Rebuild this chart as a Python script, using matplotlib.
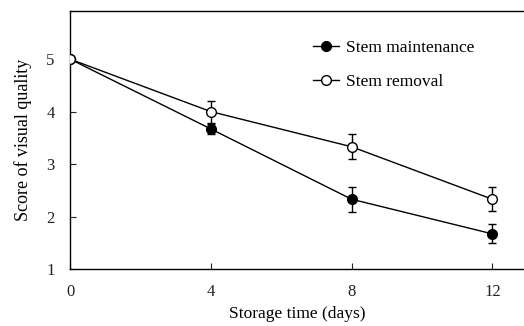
import matplotlib
matplotlib.use("Agg")
import matplotlib.pyplot as plt

days = [0, 4, 8, 12]
maintenance = [5.0, 3.67, 2.33, 1.67]
maintenance_err = [0.0, 0.10, 0.24, 0.18]
removal = [5.0, 4.0, 3.33, 2.33]
removal_err = [0.0, 0.21, 0.24, 0.23]
x_ticks = [0, 4, 8, 12]
y_ticks = [1, 2, 3, 4, 5]

plt.rcParams["font.family"] = ["Liberation Serif", "DejaVu Serif"]
plt.rcParams["font.size"] = 12

fig = plt.figure(figsize=(5.24, 3.26), dpi=100)
ax = fig.add_axes([0.1336, 0.1748, 0.8664, 0.792])

ax.errorbar(days, maintenance, yerr=maintenance_err, color="black", lw=1.0,
            marker="o", ms=7, mfc="black", mec="black", capsize=3,
            elinewidth=1.0, capthick=1.0, label="Stem maintenance", zorder=3)
ax.errorbar(days, removal, yerr=removal_err, color="black", lw=1.0,
            marker="o", ms=7, mfc="white", mec="black", capsize=3,
            elinewidth=1.0, capthick=1.0, label="Stem removal", zorder=4)

ax.set_xlim(0, 12.9)
ax.set_ylim(1, 5.92)
ax.set_xticks(x_ticks)
ax.set_yticks(y_ticks)
ax.tick_params(axis="y", direction="in", length=4, width=0.8, pad=11,
               labelsize=12, colors="#222222")
ax.tick_params(axis="x", direction="in", length=4, width=0.8, pad=11,
               labelsize=12, colors="#222222")
ax.spines["right"].set_visible(False)
for s in ["left", "bottom", "top"]:
    ax.spines[s].set_linewidth(1.0)

ax.set_xlabel("Storage time (days)", fontsize=12.5, labelpad=4)
ax.set_ylabel("Score of visual quality", fontsize=13, labelpad=10)

handles, labels = ax.get_legend_handles_labels()
handles = [h[0] for h in handles]
ax.legend(handles, labels, loc="upper left", bbox_to_anchor=(0.5, 0.947),
          frameon=False, handlelength=1.5, handletextpad=0.45,
          labelspacing=1.0, fontsize=12.5)

fig.savefig("out.png", dpi=100)
